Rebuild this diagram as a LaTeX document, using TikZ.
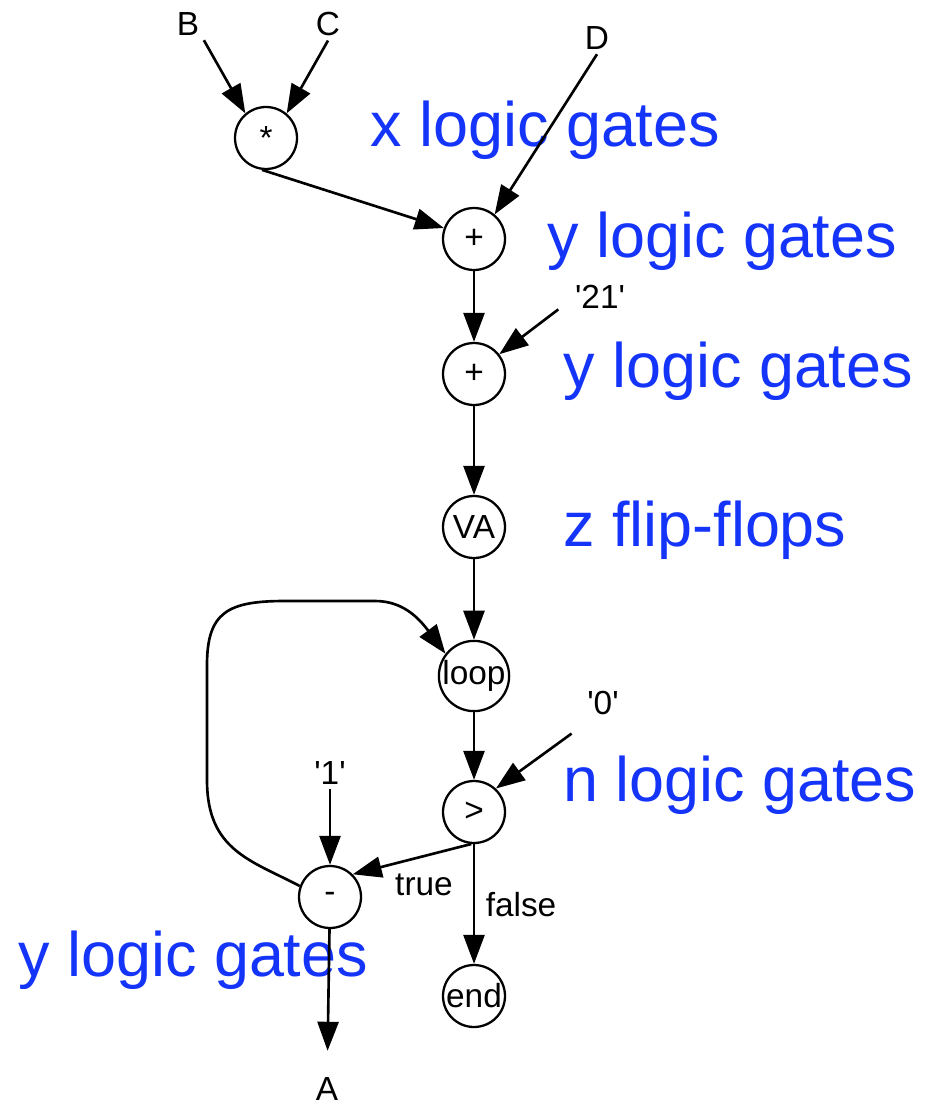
\documentclass[tikz,border=0pt]{standalone}
\usepackage{fontspec}
\setmainfont{Liberation Sans}
\usetikzlibrary{arrows.meta}
\definecolor{costblue}{RGB}{20,52,250}

\begin{document}
\begin{tikzpicture}[x=0.02cm,y=0.02cm,
		gate/.style={draw,circle,line width=1.3pt,minimum size=1.24cm,inner sep=0pt,font=\fontsize{19}{22}\selectfont},
		lbl/.style={inner sep=2.5pt,font=\fontsize{19}{22}\selectfont},
		cost/.style={anchor=base west,inner sep=0pt,text=costblue,font=\fontsize{35.8}{40}\selectfont},
		wire/.style={line width=1.5pt,-{Triangle[length=0.58cm,width=0.42cm]}}]
		%%%%% START %%%%%
		\useasboundingbox (0,0) rectangle (926,-1108);
		
		% inputs and constants
		\node[lbl] (B) at (188,-24) {B};
		\node[lbl] (C) at (328,-24) {C};
		\node[lbl] (D) at (597,-38) {D};
		\node[lbl] (q21) at (600,-297) {\textquotesingle 21\textquotesingle};
		\node[lbl] (q0) at (603,-703) {\textquotesingle 0\textquotesingle};
		\node[lbl] (q1) at (330,-773) {\textquotesingle 1\textquotesingle};
		\node[lbl] (A) at (327,-1089) {A};
		
		% operators
		\node[gate] (mul) at (266,-138) {*};
		\node[gate] (add1) at (474,-239) {+};
		\node[gate] (add2) at (474,-374) {+};
		\node[gate] (va) at (474,-527) {VA};
		\node[gate] (loop) at (474,-676) {loop};
		\node[gate] (cmp) at (474,-812) {>};
		\node[gate] (sub) at (330,-897) {-};
		\node[gate] (stop) at (474,-996) {end};
		
		% branch labels
		\node[lbl] (ltrue) at (424,-885) {true};
		\node[lbl] (lfalse) at (521,-905) {false};
		
		% hardware cost
		\node[cost] (c1) at (370,-147) {x logic gates};
		\node[cost] (c2) at (547,-257) {y logic gates};
		\node[cost] (c3) at (563,-387) {y logic gates};
		\node[cost] (c4) at (563,-546) {z flip-flops};
		\node[cost] (c5) at (563,-801) {n logic gates};
		\node[cost] (c6) at (18,-976) {y logic gates};
		
		% data flow
		\draw[wire] (B.south east) -- (mul.130);
		\draw[wire] (C.south) -- (mul.50);
		\draw[wire] (mul.-97) -- (add1.160);
		\draw[wire] (D.south) -- (add1.50);
		\draw[wire] (add1) -- (add2);
		\draw[wire] ([shift={(-12,4)}]q21.south west) -- (add2.38);
		\draw[wire] (add2) -- (va);
		\draw[wire] (va) -- (loop);
		\draw[wire] (loop) -- (cmp);
		\draw[wire] ([shift={(-11,-14)}]q0.south west) -- (cmp.47);
		\draw[wire] (cmp.-95) -- (sub.45);
		\draw[wire] (cmp) -- (stop);
		\draw[wire] (q1.south) -- (sub);
		\draw[wire,shorten >=0.44cm] (sub) -- (A);
		
		% back edge into the loop
		\draw[wire] (sub.160) .. controls (250,-860) and (207,-850) .. (207,-780)
			-- (207,-665) .. controls (207,-612) and (228,-601) .. (285,-601)
			-- (375,-601) .. controls (402,-601) and (418,-617) .. (loop.142);
		
		%%%%% END %%%%%
	\end{tikzpicture}
\end{document}
